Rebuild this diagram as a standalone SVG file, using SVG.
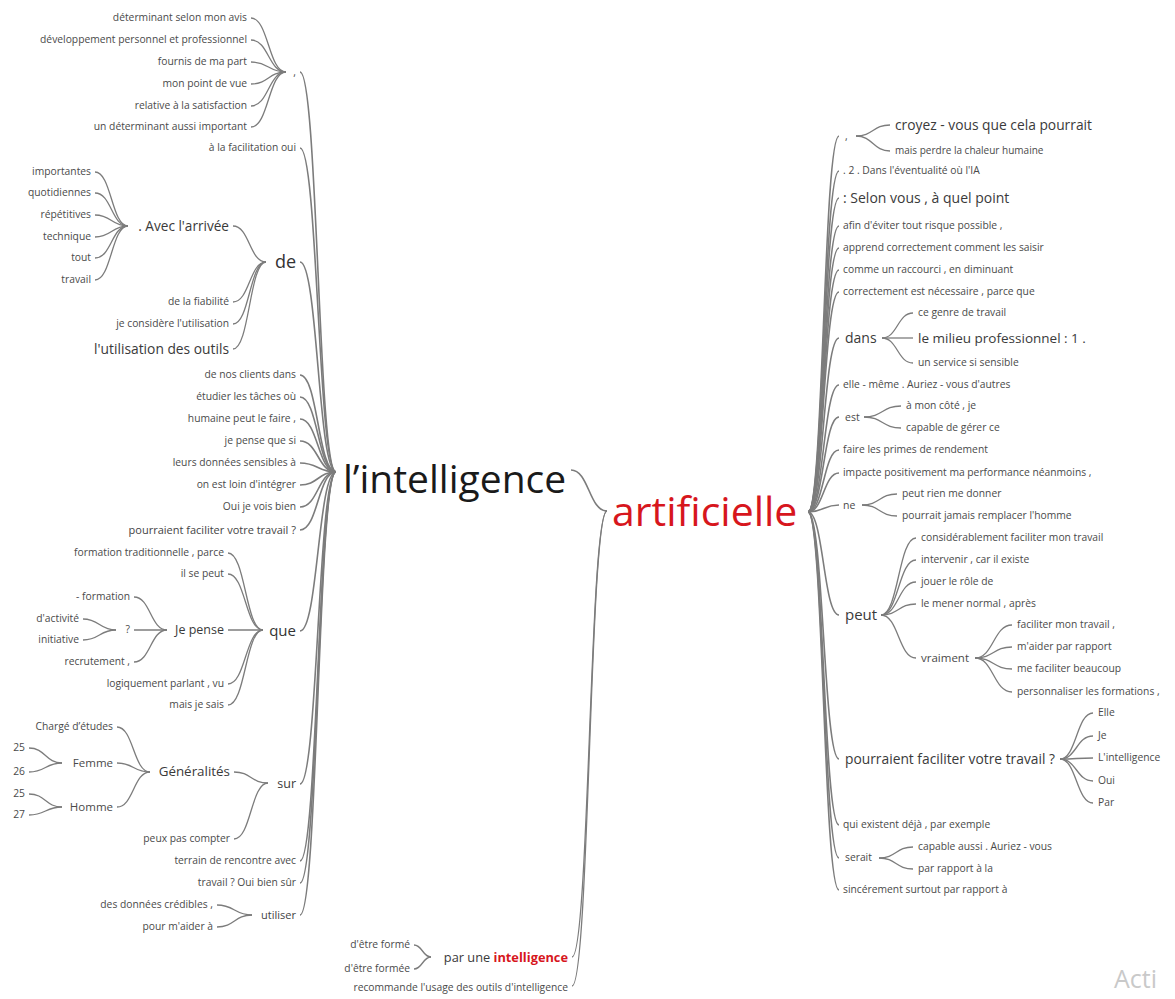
<svg xmlns="http://www.w3.org/2000/svg" width="1175" height="999" viewBox="0 0 1175 999">
<style>
text{font-family:"Open Sans","Noto Sans","DejaVu Sans",sans-serif;fill:#4a4a4a;font-size:10.3px}
.e{text-anchor:end}
.m{font-size:13.6px;fill:#3a3a3a}
.k{font-size:11px;fill:#444}
.big{font-size:39px;fill:#1a1a1a}
.red{fill:#d7161d}
#links path{fill:none;stroke:#7c7c7c;stroke-width:1.3}
#links .r{stroke-width:1.6}
</style>
<rect width="1175" height="999" fill="#fff"/>
<g id="links">
<path class="r" d="M300,72 C318,72 318,472 336,472"/>
<path class="r" d="M300,148 C318,148 318,472 336,472"/>
<path class="r" d="M300,262 C318,262 318,472 336,472"/>
<path class="r" d="M300,375 C318,375 318,472 336,472"/>
<path class="r" d="M300,397 C318,397 318,472 336,472"/>
<path class="r" d="M300,419 C318,419 318,472 336,472"/>
<path class="r" d="M300,441 C318,441 318,472 336,472"/>
<path class="r" d="M300,463 C318,463 318,472 336,472"/>
<path class="r" d="M300,485 C318,485 318,472 336,472"/>
<path class="r" d="M300,507 C318,507 318,472 336,472"/>
<path class="r" d="M300,530 C318,530 318,472 336,472"/>
<path class="r" d="M300,631 C318,631 318,472 336,472"/>
<path class="r" d="M300,784 C318,784 318,472 336,472"/>
<path class="r" d="M300,861 C318,861 318,472 336,472"/>
<path class="r" d="M300,883 C318,883 318,472 336,472"/>
<path class="r" d="M300,915 C318,915 318,472 336,472"/>
<path d="M251,18 C268.5,18 268.5,72 286,72"/>
<path d="M251,40 C268.5,40 268.5,72 286,72"/>
<path d="M251,62 C268.5,62 268.5,72 286,72"/>
<path d="M251,84 C268.5,84 268.5,72 286,72"/>
<path d="M251,106 C268.5,106 268.5,72 286,72"/>
<path d="M251,127 C268.5,127 268.5,72 286,72"/>
<path d="M233,226 C249.5,226 249.5,262 266,262"/>
<path d="M233,302 C249.5,302 249.5,262 266,262"/>
<path d="M233,324 C249.5,324 249.5,262 266,262"/>
<path d="M233,349 C249.5,349 249.5,262 266,262"/>
<path d="M95,172 C111.5,172 111.5,226 128,226"/>
<path d="M95,193 C111.5,193 111.5,226 128,226"/>
<path d="M95,215 C111.5,215 111.5,226 128,226"/>
<path d="M95,237 C111.5,237 111.5,226 128,226"/>
<path d="M95,258 C111.5,258 111.5,226 128,226"/>
<path d="M95,280 C111.5,280 111.5,226 128,226"/>
<path d="M228,553 C245.5,553 245.5,630 263,630"/>
<path d="M228,574 C245.5,574 245.5,630 263,630"/>
<path d="M228,630 C245.5,630 245.5,630 263,630"/>
<path d="M228,684 C245.5,684 245.5,630 263,630"/>
<path d="M228,705 C245.5,705 245.5,630 263,630"/>
<path d="M134,597 C150.5,597 150.5,630 167,630"/>
<path d="M134,630 C150.5,630 150.5,630 167,630"/>
<path d="M134,662 C150.5,662 150.5,630 167,630"/>
<path d="M83,619 C99.5,619 99.5,630 116,630"/>
<path d="M83,640 C99.5,640 99.5,630 116,630"/>
<path d="M234,772 C251,772 251,783 268,783"/>
<path d="M234,839 C251,839 251,783 268,783"/>
<path d="M117,727 C133.5,727 133.5,772 150,772"/>
<path d="M117,763 C133.5,763 133.5,772 150,772"/>
<path d="M117,807 C133.5,807 133.5,772 150,772"/>
<path d="M29,748 C45.5,748 45.5,763 62,763"/>
<path d="M29,772 C45.5,772 45.5,763 62,763"/>
<path d="M29,794 C45.5,794 45.5,807 62,807"/>
<path d="M29,815 C45.5,815 45.5,807 62,807"/>
<path d="M217,905 C234.5,905 234.5,915 252,915"/>
<path d="M217,927 C234.5,927 234.5,915 252,915"/>
<path class="r" d="M571,470 C589,470 589,511 607,511"/>
<path d="M572,957 C589.5,957 589.5,511 607,511"/>
<path d="M572,986 C589.5,986 589.5,511 607,511"/>
<path d="M414,945 C422.5,945 422.5,957 431,957"/>
<path d="M414,969 C422.5,969 422.5,957 431,957"/>
<path class="r" d="M808,512 C823.5,512 823.5,136 839,136"/>
<path class="r" d="M808,512 C823.5,512 823.5,171 839,171"/>
<path class="r" d="M808,512 C823.5,512 823.5,198 839,198"/>
<path class="r" d="M808,512 C823.5,512 823.5,226 839,226"/>
<path class="r" d="M808,512 C823.5,512 823.5,248 839,248"/>
<path class="r" d="M808,512 C823.5,512 823.5,270 839,270"/>
<path class="r" d="M808,512 C823.5,512 823.5,292 839,292"/>
<path class="r" d="M808,512 C823.5,512 823.5,338 839,338"/>
<path class="r" d="M808,512 C823.5,512 823.5,385 839,385"/>
<path class="r" d="M808,512 C823.5,512 823.5,417 839,417"/>
<path class="r" d="M808,512 C823.5,512 823.5,450 839,450"/>
<path class="r" d="M808,512 C823.5,512 823.5,473 839,473"/>
<path class="r" d="M808,512 C823.5,512 823.5,505 839,505"/>
<path class="r" d="M808,512 C823.5,512 823.5,615 839,615"/>
<path class="r" d="M808,512 C823.5,512 823.5,759 839,759"/>
<path class="r" d="M808,512 C823.5,512 823.5,825 839,825"/>
<path class="r" d="M808,512 C823.5,512 823.5,858 839,858"/>
<path class="r" d="M808,512 C823.5,512 823.5,890 839,890"/>
<path d="M856,136 C873,136 873,125 890,125"/>
<path d="M856,136 C873,136 873,151 890,151"/>
<path d="M882,338 C897.5,338 897.5,313 913,313"/>
<path d="M882,338 C897.5,338 897.5,338 913,338"/>
<path d="M882,338 C897.5,338 897.5,363 913,363"/>
<path d="M864,417 C882.5,417 882.5,406 901,406"/>
<path d="M864,417 C882.5,417 882.5,428 901,428"/>
<path d="M862,505 C879.5,505 879.5,494 897,494"/>
<path d="M862,505 C879.5,505 879.5,516 897,516"/>
<path d="M881,615 C898.5,615 898.5,538 916,538"/>
<path d="M881,615 C898.5,615 898.5,560 916,560"/>
<path d="M881,615 C898.5,615 898.5,582 916,582"/>
<path d="M881,615 C898.5,615 898.5,604 916,604"/>
<path d="M881,615 C898.5,615 898.5,658 916,658"/>
<path d="M975,658 C993.5,658 993.5,625 1012,625"/>
<path d="M975,658 C993.5,658 993.5,647 1012,647"/>
<path d="M975,658 C993.5,658 993.5,669 1012,669"/>
<path d="M975,658 C993.5,658 993.5,692 1012,692"/>
<path d="M1060,759 C1076.5,759 1076.5,713 1093,713"/>
<path d="M1060,759 C1076.5,759 1076.5,736 1093,736"/>
<path d="M1060,759 C1076.5,759 1076.5,758 1093,758"/>
<path d="M1060,759 C1076.5,759 1076.5,781 1093,781"/>
<path d="M1060,759 C1076.5,759 1076.5,803 1093,803"/>
<path d="M879,858 C896,858 896,847 913,847"/>
<path d="M879,858 C896,858 896,869 913,869"/>
</g>

<g id="root"><text class="big" x="343" y="493">l’intelligence</text></g>
<g id="artificielle"><text class="big red" x="612" y="526" style="font-size:41px">artificielle</text></g>

<g id="l-comma"><text class="e" x="296" y="76">,</text></g>
<g id="l-facil"><text class="e" x="296" y="151.4">à la facilitation oui</text></g>
<g id="l-de"><text class="e" x="296" y="268" style="font-size:18px;fill:#333">de</text></g>
<g id="l-clients"><text class="e" x="296" y="378.4">de nos clients dans</text></g>
<g id="l-etudier"><text class="e" x="296" y="400.4">étudier les tâches où</text></g>
<g id="l-humaine"><text class="e" x="296" y="422.4">humaine peut le faire ,</text></g>
<g id="l-jepense"><text class="e" x="296" y="444.4">je pense que si</text></g>
<g id="l-leurs"><text class="e" x="296" y="466.4">leurs données sensibles à</text></g>
<g id="l-loin"><text class="e" x="296" y="488.4">on est loin d'intégrer</text></g>
<g id="l-oui"><text class="e" x="296" y="510.4">Oui je vois bien</text></g>
<g id="l-pourraient"><text class="e k" x="296" y="533.6">pourraient faciliter votre travail ?</text></g>
<g id="l-que"><text class="e" x="296" y="636" style="font-size:15px;fill:#333">que</text></g>
<g id="l-sur"><text class="e" x="296" y="788.1" style="font-size:12.5px;fill:#3a3a3a">sur</text></g>
<g id="l-terrain"><text class="e" x="296" y="864.4">terrain de rencontre avec</text></g>
<g id="l-travail"><text class="e" x="296" y="886.4">travail ? Oui bien sûr</text></g>
<g id="l-utiliser"><text class="e k" x="296" y="918.6">utiliser</text></g>

<g id="c1"><text class="e" x="247" y="21.4">déterminant selon mon avis</text></g>
<g id="c2"><text class="e" x="247" y="43.4">développement personnel et professionnel</text></g>
<g id="c3"><text class="e" x="247" y="65.4">fournis de ma part</text></g>
<g id="c4"><text class="e" x="247" y="87.4">mon point de vue</text></g>
<g id="c5"><text class="e" x="247" y="109.4">relative à la satisfaction</text></g>
<g id="c6"><text class="e" x="247" y="130.4">un déterminant aussi important</text></g>

<g id="d-avec"><text class="e m" x="229" y="230.5">. Avec l'arrivée</text></g>
<g id="d-fiab"><text class="e" x="229" y="305.4">de la fiabilité</text></g>
<g id="d-consid"><text class="e" x="229" y="327.4">je considère l'utilisation</text></g>
<g id="d-util"><text class="e m" x="229" y="353.6" style="font-size:13.8px">l'utilisation des outils</text></g>

<g id="a1"><text class="e" x="91" y="175.4">importantes</text></g>
<g id="a2"><text class="e" x="91" y="196.4">quotidiennes</text></g>
<g id="a3"><text class="e" x="91" y="218.4">répétitives</text></g>
<g id="a4"><text class="e" x="91" y="240.4">technique</text></g>
<g id="a5"><text class="e" x="91" y="261.4">tout</text></g>
<g id="a6"><text class="e" x="91" y="283.4">travail</text></g>

<g id="q1"><text class="e" x="224" y="556.4">formation traditionnelle , parce</text></g>
<g id="q2"><text class="e" x="224" y="577.4">il se peut</text></g>
<g id="q-jepense"><text class="e" x="224" y="634.1" style="font-size:12.5px;fill:#3a3a3a">Je pense</text></g>
<g id="q4"><text class="e" x="224" y="687.4">logiquement parlant , vu</text></g>
<g id="q5"><text class="e" x="224" y="708.4">mais je sais</text></g>
<g id="j1"><text class="e" x="130" y="600.4">- formation</text></g>
<g id="j-q"><text class="e" x="130" y="633.4">?</text></g>
<g id="j3"><text class="e" x="130" y="665.4">recrutement ,</text></g>
<g id="qq1"><text class="e" x="79" y="622.4">d'activité</text></g>
<g id="qq2"><text class="e" x="79" y="643.4">initiative</text></g>

<g id="s-gen"><text class="e" x="230" y="776.4" style="font-size:13.4px;fill:#3a3a3a">Généralités</text></g>
<g id="s-peux"><text class="e" x="230" y="842.4">peux pas compter</text></g>
<g id="g1"><text class="e" x="113" y="730.4">Chargé d’études</text></g>
<g id="g-femme"><text class="e" x="113" y="766.8" style="font-size:11.5px">Femme</text></g>
<g id="g-homme"><text class="e" x="113" y="810.8" style="font-size:11.5px">Homme</text></g>
<g id="f1"><text class="e" x="25" y="751.4">25</text></g>
<g id="f2"><text class="e" x="25" y="775.4">26</text></g>
<g id="h1"><text class="e" x="25" y="797.4">25</text></g>
<g id="h2"><text class="e" x="25" y="818.4">27</text></g>

<g id="u1"><text class="e" x="213" y="908.4">des données crédibles ,</text></g>
<g id="u2"><text class="e" x="213" y="930.4">pour m'aider à</text></g>

<g id="b-parune"><text class="e" x="568" y="962" style="font-size:12.8px;fill:#3a3a3a">par une <tspan class="red" style="font-weight:bold">intelligence</tspan></text></g>
<g id="b1"><text class="e" x="410" y="948.4">d'être formé</text></g>
<g id="b2"><text class="e" x="410" y="972.4">d'être formée</text></g>
<g id="b-recom"><text class="e" x="568" y="991.4">recommande l'usage des outils d'intelligence</text></g>

<g id="r-comma"><text x="845" y="140">,</text></g>
<g id="r2"><text x="843" y="174.4">. 2 . Dans l'éventualité où l'IA</text></g>
<g id="r3"><text class="m" x="843" y="202.6" style="font-size:14px">: Selon vous , à quel point</text></g>
<g id="r4"><text x="843" y="229.4">afin d'éviter tout risque possible ,</text></g>
<g id="r5"><text x="843" y="251.4">apprend correctement comment les saisir</text></g>
<g id="r6"><text x="843" y="273.4">comme un raccourci , en diminuant</text></g>
<g id="r7"><text x="843" y="295.4">correctement est nécessaire , parce que</text></g>
<g id="r-dans"><text class="m" x="845" y="342.6" style="font-size:14px">dans</text></g>
<g id="r9"><text x="843" y="388.4">elle - même . Auriez - vous d'autres</text></g>
<g id="r-est"><text x="845" y="420.5" style="font-size:10.5px">est</text></g>
<g id="r11"><text x="843" y="453.4">faire les primes de rendement</text></g>
<g id="r12"><text x="843" y="476.4">impacte positivement ma performance néanmoins ,</text></g>
<g id="r-ne"><text x="843" y="508.5" style="font-size:10.5px">ne</text></g>
<g id="r-peut"><text class="m" x="845" y="620" style="font-size:15px">peut</text></g>
<g id="r-pourraient"><text class="m" x="845" y="763.6" style="font-size:13.8px">pourraient faciliter votre travail ?</text></g>
<g id="r16"><text x="843" y="828.4">qui existent déjà , par exemple</text></g>
<g id="r-serait"><text x="845" y="861.4">serait</text></g>
<g id="r18"><text x="843" y="893.4">sincérement surtout par rapport à</text></g>

<g id="rc1"><text class="m" x="895" y="129.6" style="font-size:13.8px">croyez - vous que cela pourrait</text></g>
<g id="rc2"><text x="895" y="154.3" style="font-size:10px">mais perdre la chaleur humaine</text></g>
<g id="rd1"><text x="918" y="316.4">ce genre de travail</text></g>
<g id="rd2"><text class="m" x="918" y="342.5" style="font-size:13.5px">le milieu professionnel : 1 .</text></g>
<g id="rd3"><text x="918" y="366.4">un service si sensible</text></g>
<g id="re1"><text x="906" y="409.4">à mon côté , je</text></g>
<g id="re2"><text x="906" y="431.4">capable de gérer ce</text></g>
<g id="rn1"><text x="902" y="497.4">peut rien me donner</text></g>
<g id="rn2"><text x="902" y="519.4">pourrait jamais remplacer l'homme</text></g>
<g id="rp1"><text x="921" y="541.4">considérablement faciliter mon travail</text></g>
<g id="rp2"><text x="921" y="563.4">intervenir , car il existe</text></g>
<g id="rp3"><text x="921" y="585.4">jouer le rôle de</text></g>
<g id="rp4"><text x="921" y="607.4">le mener normal , après</text></g>
<g id="rp-vraiment"><text x="921" y="661.8" style="font-size:11.5px">vraiment</text></g>
<g id="rv1"><text x="1017" y="628.4">faciliter mon travail ,</text></g>
<g id="rv2"><text x="1017" y="650.4">m'aider par rapport</text></g>
<g id="rv3"><text x="1017" y="672.4">me faciliter beaucoup</text></g>
<g id="rv4"><text x="1017" y="695.4">personnaliser les formations ,</text></g>
<g id="rf1"><text x="1098" y="716.4">Elle</text></g>
<g id="rf2"><text x="1098" y="739.4">Je</text></g>
<g id="rf3"><text x="1098" y="761.4">L'intelligence</text></g>
<g id="rf4"><text x="1098" y="784.4">Oui</text></g>
<g id="rf5"><text x="1098" y="806.4">Par</text></g>
<g id="rs1"><text x="918" y="850.4">capable aussi . Auriez - vous</text></g>
<g id="rs2"><text x="918" y="872.4">par rapport à la</text></g>

<text x="1114" y="988" style="font-size:25px;fill:#c9c9c9">Acti</text>
</svg>
